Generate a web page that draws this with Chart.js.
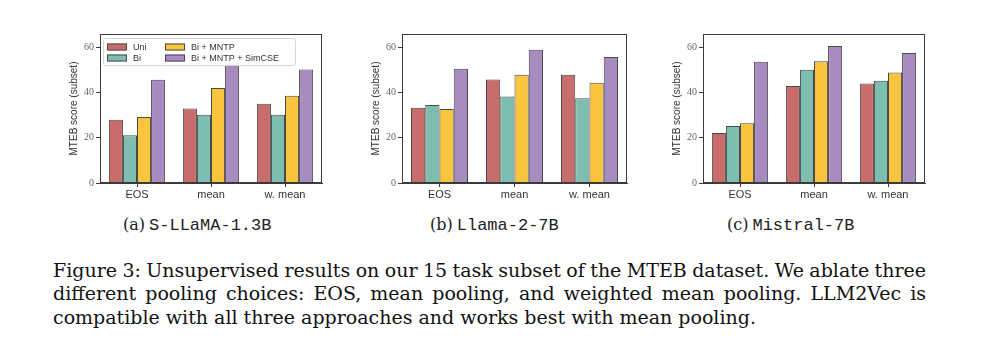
<!DOCTYPE html>
<html>
<head>
<meta charset="utf-8">
<script src="https://cdn.jsdelivr.net/npm/chart.js@4.4.1/dist/chart.umd.min.js"></script>
<style>
  html, body { margin: 0; padding: 0; background: #fff; }
  body { width: 1007px; height: 356px; position: relative; overflow: hidden; }
  canvas.panel { position: absolute; }
  .sub { position: absolute; top: 215px; font-size: 16px; color: #222; white-space: nowrap; }
  .sub .s { font-family: "DejaVu Serif", serif; }
  .sub .m { font-family: "Liberation Mono", monospace; font-size: 17px; }
  .cap { position: absolute; left: 53px; font-family: "DejaVu Serif", serif; font-size: 19px; color: #111; white-space: nowrap; }
</style>
</head>
<body>
<canvas class="panel" id="c1"></canvas>
<canvas class="panel" id="c2"></canvas>
<canvas class="panel" id="c3"></canvas>

<div class="sub" style="left:123px"><span class="s">(a)</span> <span class="m">S-LLaMA-1.3B</span></div>
<div class="sub" style="left:430px"><span class="s">(b)</span> <span class="m">Llama-2-7B</span></div>
<div class="sub" style="left:727px"><span class="s">(c)</span> <span class="m">Mistral-7B</span></div>

<div class="cap j" style="top:259px">Figure 3: Unsupervised results on our 15 task subset of the MTEB dataset. We ablate three</div>
<div class="cap j" style="top:282px">different pooling choices: EOS, mean pooling, and weighted mean pooling. LLM2Vec is</div>
<div class="cap" style="top:306px">compatible with all three approaches and works best with mean pooling.</div>

<script>
// justify caption lines to the text block width
(function () {
  const target = 873;
  document.querySelectorAll('.cap.j').forEach(el => {
    const w = el.getBoundingClientRect().width;
    const spaces = (el.textContent.match(/ /g) || []).length;
    if (spaces > 0) el.style.wordSpacing = ((target - w) / spaces) + 'px';
  });
})();

// ---- data ----
const categories = ['EOS', 'mean', 'w. mean'];
const seriesNames = ['Uni', 'Bi', 'Bi + MNTP', 'Bi + MNTP + SimCSE'];
const yTicks = [0, 20, 40, 60];
const yMax = 66;

const sllamaUni    = [28.0, 33.0, 35.1];
const sllamaBi     = [21.1, 30.2, 30.2];
const sllamaMntp   = [29.2, 42.1, 38.7];
const sllamaSimcse = [45.7, 53.0, 50.3];

const llamaUni    = [33.3, 45.9, 47.9];
const llamaBi     = [34.5, 38.3, 37.5];
const llamaMntp   = [32.8, 47.9, 44.4];
const llamaSimcse = [50.6, 59.0, 55.8];

const mistralUni    = [22.2, 43.0, 44.1];
const mistralBi     = [25.2, 50.2, 45.3];
const mistralMntp   = [26.5, 53.9, 49.0];
const mistralSimcse = [53.7, 60.7, 57.6];

// ---- style ----
const colors = ['rgb(201,108,108)', 'rgb(126,190,176)', 'rgb(249,196,62)', 'rgb(168,140,193)'];
const edge = '#4a4a4a';
const AX_W = 40;   // y axis box width
const AX_H = 22;   // x axis box height
const PAD_T = 9, PAD_R = 8;

const framePlugin = {
  id: 'frame',
  afterDatasetsDraw(chart) {
    const a = chart.chartArea, ctx = chart.ctx;
    ctx.save();
    ctx.strokeStyle = '#3a3a3a';
    ctx.lineWidth = 1;
    ctx.strokeRect(a.left + 0.5, a.top + 0.5, a.right - a.left - 1, a.bottom - a.top - 1);
    ctx.restore();
  }
};

const insideLegend = {
  id: 'insideLegend',
  afterDraw(chart, args, opts) {
    if (!opts.show) return;
    const a = chart.chartArea, ctx = chart.ctx;
    const x0 = a.left + 3, y0 = a.top + 4, w = 192, h = 27;
    ctx.save();
    ctx.fillStyle = 'rgba(255,255,255,0.92)';
    ctx.strokeStyle = '#d6d6d6';
    ctx.lineWidth = 1;
    ctx.beginPath();
    ctx.roundRect(x0 + 0.5, y0 + 0.5, w, h, 2);
    ctx.fill(); ctx.stroke();
    ctx.font = '9px "Liberation Sans", Arial, sans-serif';
    ctx.textBaseline = 'middle';
    ctx.fillStyle = '#333';
    const ds = chart.data.datasets;
    const colX = [x0 + 4, x0 + 62];
    const rowY = [y0 + 9, y0 + 20];
    ds.forEach((d, i) => {
      const c = Math.floor(i / 2), r = i % 2;
      const px = colX[c], py = rowY[r];
      ctx.fillStyle = d.backgroundColor;
      ctx.fillRect(px, py - 3.5, 20, 7);
      ctx.strokeStyle = edge;
      ctx.strokeRect(px + 0.5, py - 3.5 + 0.5, 19, 6);
      ctx.fillStyle = '#333';
      ctx.fillText(d.label, px + 26, py + 0.5);
    });
    ctx.restore();
  }
};

function makeChart(id, areaLeft, areaRight, areaTop, areaBottom, series, showLegend) {
  const cv = document.getElementById(id);
  const W = (areaRight - areaLeft) + AX_W + PAD_R;
  const H = (areaBottom - areaTop) + PAD_T + AX_H;
  cv.style.left = (areaLeft - AX_W) + 'px';
  cv.style.top = (areaTop - PAD_T) + 'px';
  cv.style.width = W + 'px';
  cv.style.height = H + 'px';
  cv.width = W; cv.height = H;
  new Chart(cv, {
    type: 'bar',
    data: {
      labels: categories,
      datasets: series.map((vals, i) => ({
        label: seriesNames[i],
        data: vals,
        backgroundColor: colors[i],
        borderColor: edge,
        borderWidth: 1,
        borderSkipped: 'bottom',
        categoryPercentage: 0.76,
        barPercentage: 1.0
      }))
    },
    options: {
      responsive: false,
      animation: false,
      devicePixelRatio: 1,
      layout: { padding: { top: PAD_T, right: PAD_R, left: 0, bottom: 0 } },
      plugins: {
        legend: { display: false },
        tooltip: { enabled: false },
        insideLegend: { show: showLegend }
      },
      scales: {
        x: {
          grid: { display: true, drawOnChartArea: false, drawTicks: true, tickLength: 4, color: '#3a3a3a', offset: false },
          border: { display: true, color: '#3a3a3a' },
          ticks: { color: '#333', padding: 1, font: { family: '"Liberation Sans", Arial, sans-serif', size: 11 }, maxRotation: 0 },
          afterFit(s) { s.height = AX_H; }
        },
        y: {
          min: 0, max: yMax,
          afterBuildTicks(s) { s.ticks = yTicks.map(v => ({ value: v })); },
          grid: { display: true, drawOnChartArea: false, drawTicks: true, tickLength: 4, color: '#3a3a3a' },
          border: { display: true, color: '#3a3a3a' },
          ticks: { color: '#666', padding: 2, font: { family: '"Liberation Serif", "DejaVu Serif", serif', size: 10 } },
          title: { display: true, text: 'MTEB score (subset)', color: '#333', padding: { top: 8, bottom: 0 },
                   font: { family: '"Liberation Sans", Arial, sans-serif', size: 10 } },
          afterFit(s) { s.width = AX_W; }
        }
      }
    },
    plugins: [framePlugin, insideLegend]
  });
}

makeChart('c1', 100, 322, 34, 183, [sllamaUni, sllamaBi, sllamaMntp, sllamaSimcse], true);
makeChart('c2', 402, 627, 34, 183, [llamaUni, llamaBi, llamaMntp, llamaSimcse], false);
makeChart('c3', 703, 925, 34, 183, [mistralUni, mistralBi, mistralMntp, mistralSimcse], false);
</script>
</body>
</html>
